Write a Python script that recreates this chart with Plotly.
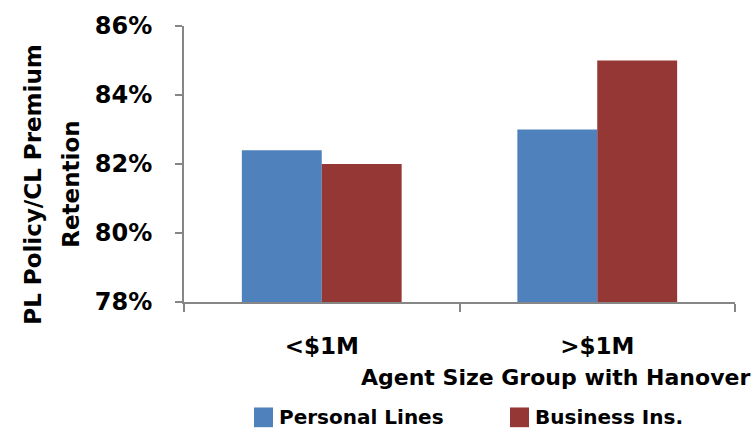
import plotly.graph_objects as go

# Retention by agent size group
categories = ["<$1M", ">$1M"]
series_names = ["Personal Lines", "Business Ins."]
personal_lines = [0.824, 0.830]
business_ins = [0.820, 0.850]
series_colors = ["#4F81BD", "#953735"]
y_tick_values = [0.78, 0.80, 0.82, 0.84, 0.86]
y_title_lines = ["PL Policy/CL Premium", "Retention"]
x_title = "Agent Size Group with Hanover"

W, H = 754, 431
PLOT_L, PLOT_R, PLOT_T, PLOT_B = 184, 735, 22, 302
AXIS_GREY = "#868686"
FONT = "DejaVu Sans"


def px_x(x):
    return (x - PLOT_L) / (PLOT_R - PLOT_L)


def px_y(y):
    return (PLOT_B - y) / (PLOT_B - PLOT_T)


fig = go.Figure()
for name, vals, col in zip(series_names, [personal_lines, business_ins], series_colors):
    fig.add_trace(go.Bar(
        x=categories, y=vals, name=name,
        marker=dict(color=col, line=dict(width=0)),
        showlegend=False,
    ))

annotations = []
shapes = []

# rotated y-axis title, two lines
for i, (line, xpx) in enumerate(zip(y_title_lines, [33, 71])):
    annotations.append(dict(
        text=line, x=px_x(xpx), y=px_y(183), xref="paper", yref="paper",
        xanchor="center", yanchor="middle", textangle=-90, showarrow=False,
        font=dict(family=FONT, size=23, color="#000", weight="bold"),
    ))

# x-axis title
annotations.append(dict(
    text=x_title, x=px_x(555), y=px_y(379), xref="paper", yref="paper",
    xanchor="center", yanchor="middle", showarrow=False,
    font=dict(family=FONT, size=22, color="#000", weight="bold"),
))

# legend: colour swatch + label
legend_swatch_x = [254, 510]
for name, col, sx in zip(series_names, series_colors, legend_swatch_x):
    shapes.append(dict(
        type="rect", xref="paper", yref="paper",
        x0=px_x(sx), x1=px_x(sx + 19), y0=px_y(429), y1=px_y(409),
        fillcolor=col, line=dict(width=0),
    ))
    annotations.append(dict(
        text=name, x=px_x(sx + 23), y=px_y(419), xref="paper", yref="paper",
        xanchor="left", yanchor="middle", showarrow=False,
        font=dict(family=FONT, size=20, color="#000", weight="bold"),
    ))

fig.update_layout(
    width=W, height=H,
    margin=dict(l=PLOT_L, r=W - PLOT_R, t=PLOT_T, b=H - PLOT_B, pad=0),
    paper_bgcolor="white", plot_bgcolor="white",
    barmode="group", bargap=0.42, bargroupgap=0,
    annotations=annotations, shapes=shapes,
    showlegend=False,
)
fig.update_yaxes(
    range=[y_tick_values[0], y_tick_values[-1]],
    tickvals=y_tick_values, tickformat=".0%",
    showgrid=False, zeroline=False,
    showline=True, linecolor=AXIS_GREY, linewidth=2,
    ticks="outside", ticklen=7, tickwidth=2, tickcolor=AXIS_GREY,
    ticklabelstandoff=18,
    tickfont=dict(family=FONT, size=24, color="#000", weight="bold"),
)
fig.update_xaxes(
    type="category", showgrid=False,
    showline=True, linecolor=AXIS_GREY, linewidth=2,
    ticks="outside", tickson="boundaries", ticklen=8, tickwidth=2, tickcolor=AXIS_GREY,
    ticklabelstandoff=22,
    tickfont=dict(family=FONT, size=23, color="#000", weight="bold"),
)

fig.write_html("out.html")
